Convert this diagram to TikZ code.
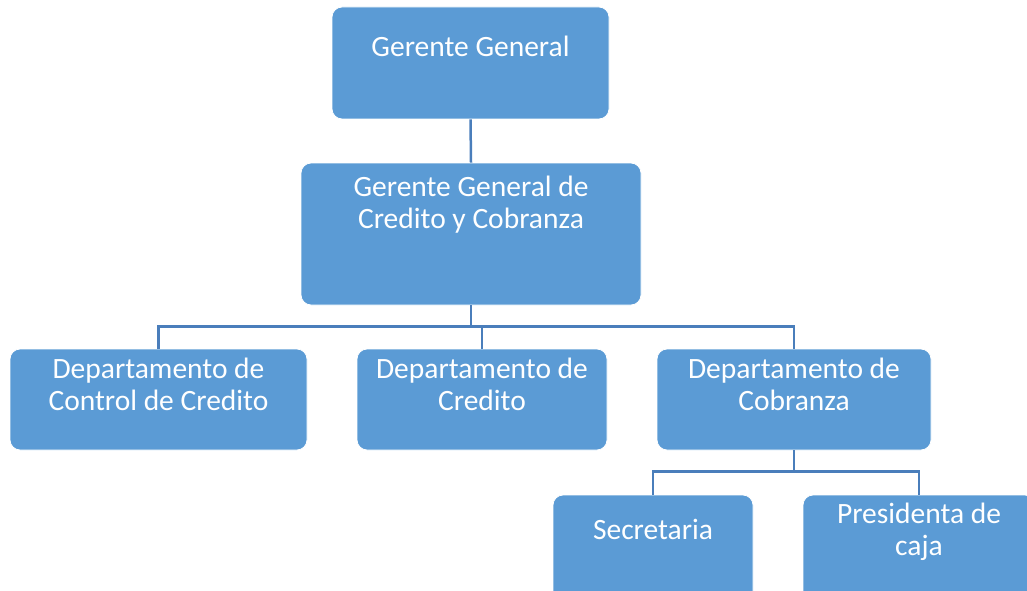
\documentclass[tikz,border=0pt]{standalone}
\usepackage{fontspec}
\setmainfont{Carlito}
\definecolor{boxblue}{HTML}{5B9BD5}
\definecolor{lineblue}{HTML}{4A7EBB}
\begin{document}
\begin{tikzpicture}[x=1pt,y=-1pt,
  box/.style={draw=white, line width=0.8pt, fill=boxblue, rounded corners=10pt, inner sep=0pt},
  lbl/.style={text=white, font=\fontsize{29.5}{32}\selectfont, align=center, anchor=base, inner sep=0pt},
  conn/.style={draw=lineblue, line width=2.5pt}]
\useasboundingbox (0,0) rectangle (1027,591);
\clip (0,0) rectangle (1027,591);
% boxes
\node[box, minimum width=277pt, minimum height=112pt] (gg) at (470.5,63) {};
\node[box, minimum width=340pt, minimum height=142pt] (gc) at (471,234) {};
\node[box, minimum width=297pt, minimum height=101pt] (d1) at (158.5,399.5) {};
\node[box, minimum width=250pt, minimum height=101pt] (d2) at (482,399.5) {};
\node[box, minimum width=274pt, minimum height=101pt] (d3) at (794,399.5) {};
\node[box, minimum width=200pt, minimum height=110pt] (s1) at (653,550) {};
\node[box, minimum width=232pt, minimum height=110pt] (s2) at (919,550) {};
% texts (base anchor = baseline of the last line)
\node[lbl] (gg-t) at (470.5,57) {Gerente General};
\node[lbl] (gc-t) at (471,228) {Gerente General de\\Credito y Cobranza};
\node[lbl] (d1-t) at (158.5,410) {Departamento de\\Control de Credito};
\node[lbl] (d2-t) at (482,410) {Departamento de\\Credito};
\node[lbl] (d3-t) at (794,410) {Departamento de\\Cobranza};
\node[lbl] (s1-t) at (653,539) {Secretaria};
\node[lbl] (s2-t) at (919,555) {Presidenta de\\caja};
% connectors
\draw[conn] (gg.south) -- (gc.north);
\draw[conn] (gc.south) -- ++(0,22);
\draw[conn] (d1.north) -- ++(0,-22) -| (d3.north);
\draw[conn] (d2.north) -- ++(0,-22);
\draw[conn] (d3.south) -- ++(0,22);
\draw[conn] (s1.north) -- ++(0,-23) -| (s2.north);
\end{tikzpicture}
\end{document}
